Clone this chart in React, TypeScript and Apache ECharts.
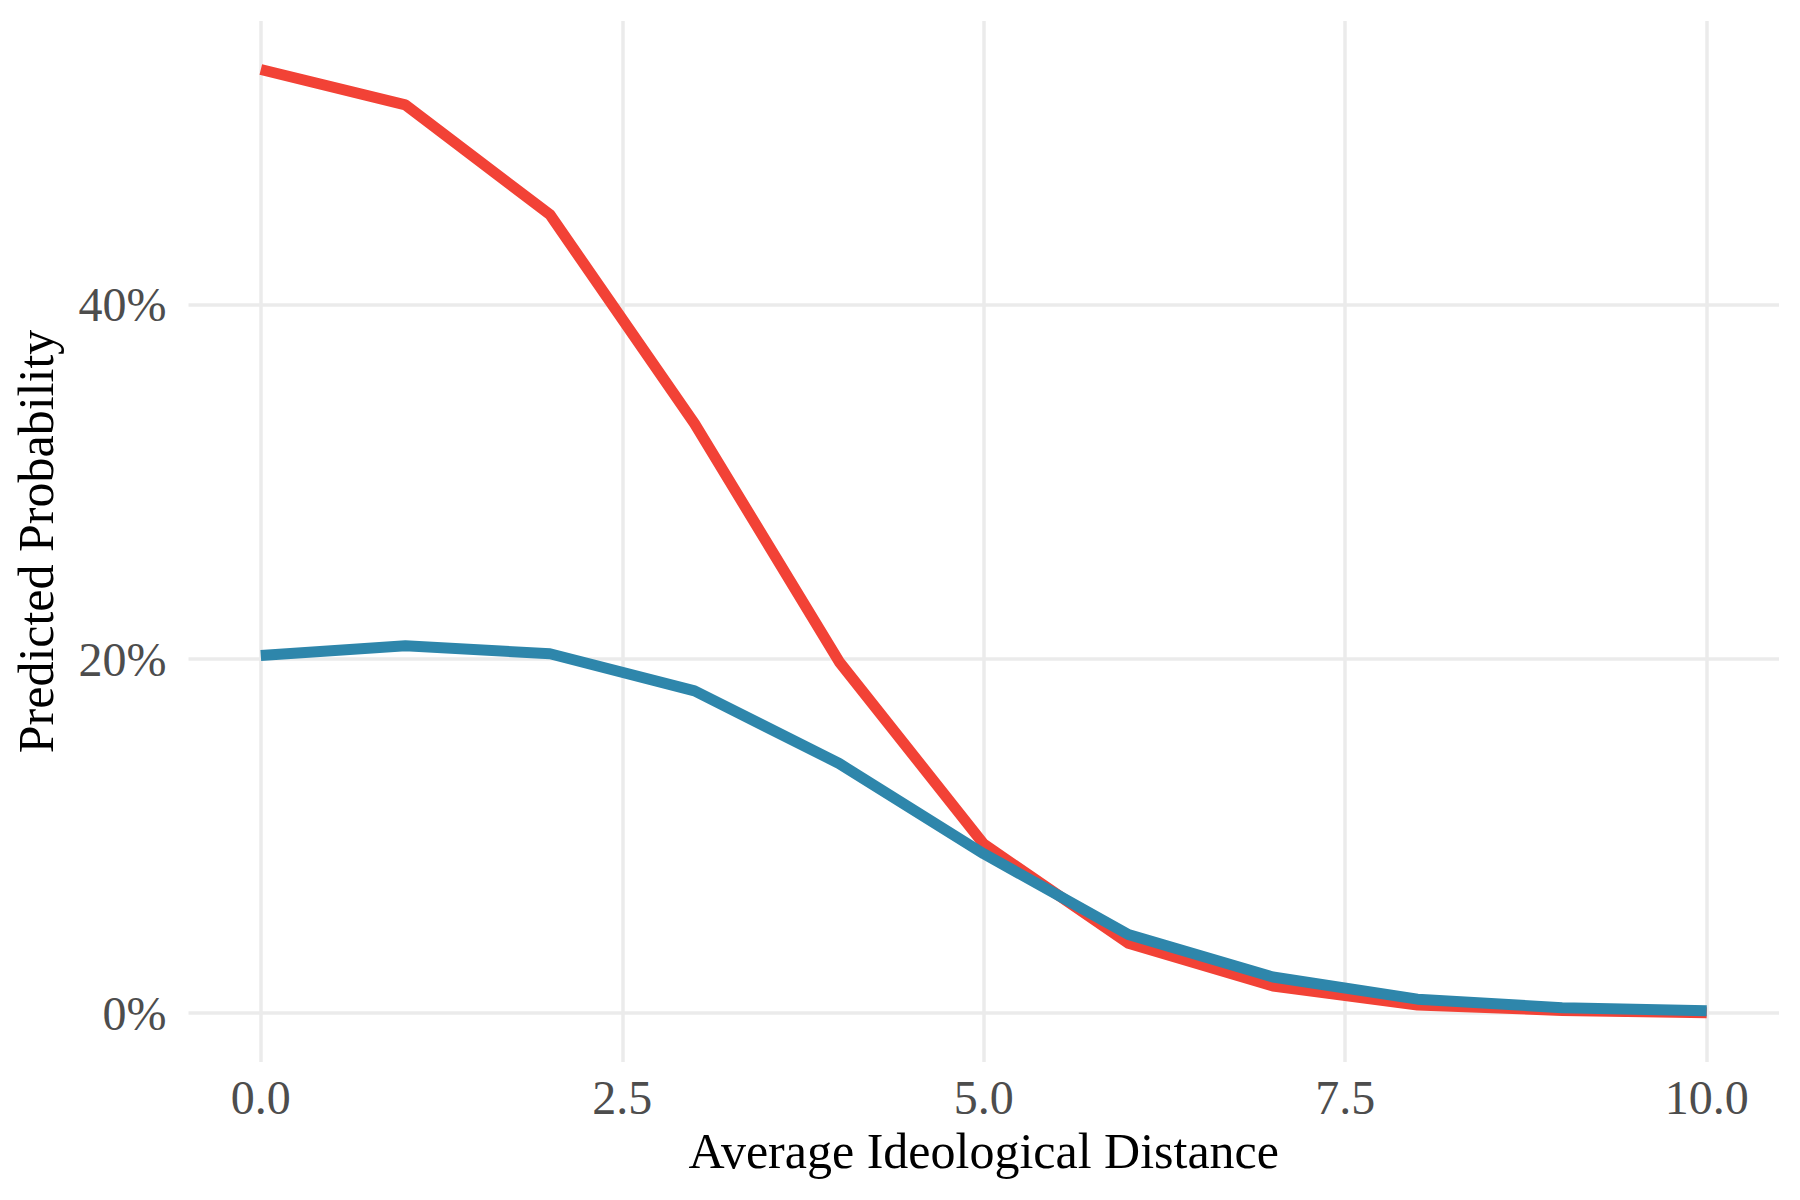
import React, { useEffect, useRef } from "react";
import * as echarts from "echarts";

// Average ideological distance (x) and predicted probabilities (%)
const distances = [0, 1, 2, 3, 4, 5, 6, 7, 8, 9, 10];
const redSeries = [53.3, 51.3, 45.1, 33.3, 19.85, 9.55, 3.95, 1.53, 0.46, 0.15, 0.02];
const blueSeries = [20.2, 20.75, 20.3, 18.2, 14.1, 9.0, 4.44, 2.04, 0.79, 0.31, 0.13];
const xTicks = [0, 2.5, 5, 7.5, 10];
const yTicks = [0, 20, 40];

const FONT = "'Liberation Serif', 'Times New Roman', 'DejaVu Serif', serif";
const GRID_COLOR = "#EBEBEB";

export default function App() {
  const ref = useRef<HTMLDivElement>(null);

  useEffect(() => {
    document.body.style.margin = "0";
    if (!ref.current) return;
    const chart = echarts.init(ref.current, undefined, { renderer: "svg" });

    const pairs = (ys: number[]) => distances.map((x, i) => [x, ys[i]]);

    const option = {
      animation: false,
      backgroundColor: "#FFFFFF",
      grid: { left: 188.5, right: 21, top: 21, bottom: 138, containLabel: false },
      xAxis: {
        type: "value",
        min: -0.5,
        max: 10.5,
        name: "Average Ideological Distance",
        nameLocation: "middle",
        nameGap: 63,
        nameTextStyle: { fontFamily: FONT, fontSize: 50, color: "#000000" },
        axisLine: { show: false },
        axisTick: { show: false },
        splitLine: { show: false },
        axisLabel: {
          customValues: xTicks,
          formatter: (v: number) => v.toFixed(1),
          fontFamily: FONT,
          fontSize: 48,
          color: "#4D4D4D",
          margin: 11,
        },
      },
      yAxis: {
        type: "value",
        min: -2.76,
        max: 56.04,
        name: "Predicted Probability",
        nameLocation: "middle",
        nameRotate: 90,
        nameGap: 128,
        nameTextStyle: { fontFamily: FONT, fontSize: 50, color: "#000000" },
        axisLine: { show: false },
        axisTick: { show: false },
        splitLine: { show: false },
        axisLabel: {
          customValues: yTicks,
          formatter: (v: number) => `${Math.round(v)}%`,
          fontFamily: FONT,
          fontSize: 48,
          color: "#4D4D4D",
          margin: 22,
        },
      },
      series: [
        {
          name: "grid",
          type: "line",
          data: [[0, 0]],
          showSymbol: false,
          lineStyle: { opacity: 0 },
          silent: true,
          z: 1,
          markLine: {
            silent: true,
            z: 1,
            symbol: ["none", "none"],
            label: { show: false },
            emphasis: { disabled: true },
            lineStyle: { color: GRID_COLOR, width: 3.5, type: "solid" },
            data: [
              ...xTicks.map((v) => ({ xAxis: v })),
              ...yTicks.map((v) => ({ yAxis: v })),
            ],
          },
        },
        {
          name: "red",
          type: "line",
          data: pairs(redSeries),
          showSymbol: false,
          z: 3,
          lineStyle: { color: "#F24236", width: 11, join: "round" },
          itemStyle: { color: "#F24236" },
        },
        {
          name: "blue",
          type: "line",
          data: pairs(blueSeries),
          showSymbol: false,
          z: 4,
          lineStyle: { color: "#2E86AB", width: 11, join: "round" },
          itemStyle: { color: "#2E86AB" },
        },
      ],
    };

    chart.setOption(option as any);
    return () => chart.dispose();
  }, []);

  return <div ref={ref} style={{ width: 1800, height: 1200 }} />;
}
